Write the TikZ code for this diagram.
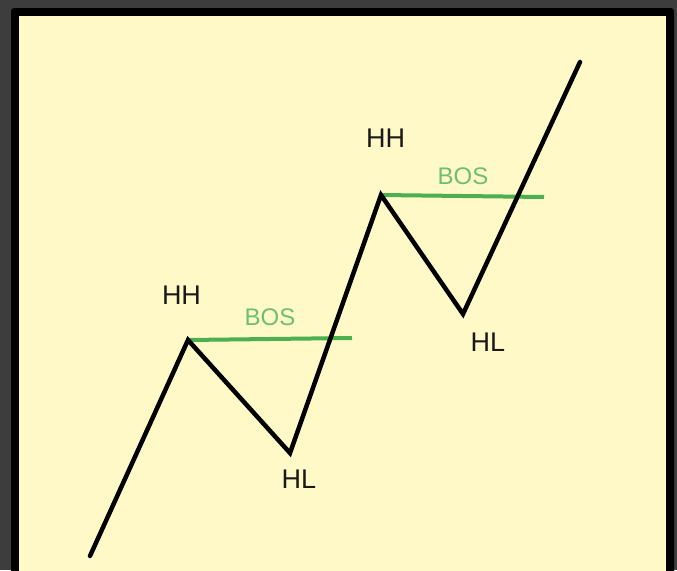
\documentclass[tikz,border=0pt]{standalone}
\usepackage{fontspec}
\setmainfont{Liberation Sans}
\definecolor{nenxam}{HTML}{3D3D3D}
\definecolor{nenvang}{HTML}{FFF9C8}
\definecolor{xanhbos}{HTML}{4CAF50}
\definecolor{chubos}{HTML}{6CC070}
\tikzset{
  nhan/.style={inner sep=0pt, font=\fontsize{27}{30}\selectfont, text=black!90},
  nhanbos/.style={inner sep=0pt, font=\fontsize{24}{28}\selectfont, text=chubos},
  duonggia/.style={line width=4.5pt, black, line cap=round, line join=miter},
  duongbos/.style={line width=4pt, xanhbos}
}
\begin{document}
\begin{tikzpicture}[x=1pt, y=-1pt]
    \useasboundingbox (0,0) rectangle (677,570);
    % Nền và khung
    \fill[nenxam] (0,0) rectangle (677,570);
    \fill[black, rounded corners=3pt] (11,8) rectangle (674,590);
    \fill[nenvang] (19,16) rectangle (666,590);

    % Các đỉnh và đáy
    \coordinate (d0) at (90,556);
    \coordinate (hh1) at (188,340);
    \coordinate (hl1) at (290,453);
    \coordinate (hh2) at (381,195);
    \coordinate (hl2) at (463,314);
    \coordinate (d5) at (580,62);
    \coordinate (bos1) at (352,338);
    \coordinate (bos2) at (544,197);

    % Đường BOS
    \draw[duongbos] (hh1) -- (bos1);
    \draw[duongbos] (hh2) -- (bos2);

    % Đường giá
    \draw[duonggia] (d0) -- (hh1) -- (hl1) -- (hh2) -- (hl2) -- (d5);

    % Nhãn
    \node[nhan] (thh1) at (181.5,295) {HH};
    \node[nhan] (thl1) at (299,479.5) {HL};
    \node[nhan] (thh2) at (385.5,138) {HH};
    \node[nhan] (thl2) at (488,342.5) {HL};
    \node[nhanbos] (tbos1) at (270,317.5) {BOS};
    \node[nhanbos] (tbos2) at (463,176.5) {BOS};
\end{tikzpicture}
\end{document}
